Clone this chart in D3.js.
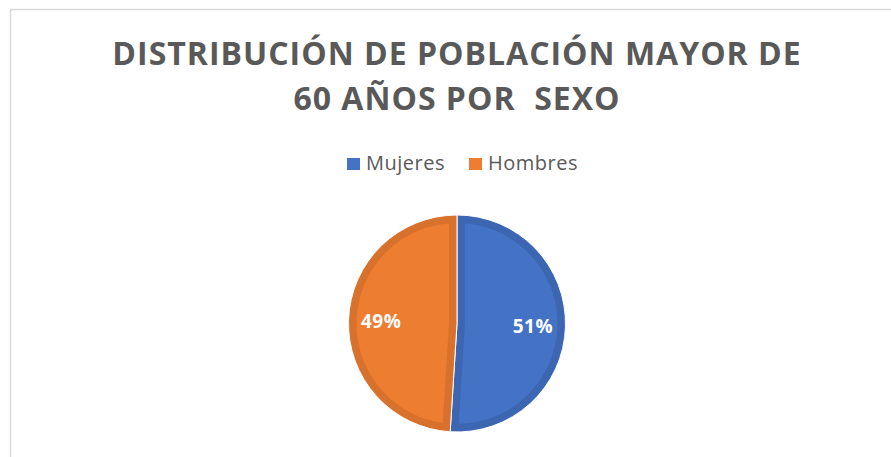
<!DOCTYPE html>
<html>
<head>
<meta charset="utf-8">
<script src="https://cdn.jsdelivr.net/npm/d3@7"></script>
<style>
  body { margin: 0; background: #fff; }
  text { font-family: "Open Sans", sans-serif; }
</style>
</head>
<body>
<script>
// chart data
let categories = ['Mujeres', 'Hombres'];
let values = [51, 49];
let colors = ['#4472C4', '#ED7D31'];
let edgeColors = ['#3C66B2', '#D8712C'];
let titleLines = ['DISTRIBUCIÓN DE POBLACIÓN MAYOR DE', '60 AÑOS POR  SEXO'];

let width = 891, height = 457;
let cx = 457, cy = 323.5, radius = 108.5;

let svg = d3.select('body').append('svg').attr('width', width).attr('height', height);

// chart frame (only top and left edges are visible)
svg.append('path')
  .attr('d', 'M10.5,' + height + 'V9.5H' + width)
  .attr('fill', 'none')
  .attr('stroke', '#d9d9d9')
  .attr('stroke-width', 1.5);

// title
svg.selectAll('.title').data(titleLines).enter().append('text')
  .attr('class', 'title')
  .attr('x', 457)
  .attr('y', (d, i) => 65 + i * 45)
  .attr('text-anchor', 'middle')
  .attr('fill', '#595959')
  .style('font-size', '32px')
  .style('letter-spacing', '1px')
  .style('font-weight', 'bold')
  .style('white-space', 'pre')
  .text(d => d);

// legend
let legend = svg.append('g').attr('class', 'legend');
let legendX = [347, 469];
let item = legend.selectAll('g').data(categories).enter().append('g')
  .attr('transform', (d, i) => 'translate(' + legendX[i] + ',158)');
item.append('rect').attr('width', 13).attr('height', 12).attr('fill', (d, i) => colors[i]);
item.append('text')
  .attr('x', 19).attr('y', 12)
  .attr('fill', '#595959')
  .style('font-size', '20px')
  .style('letter-spacing', '0.5px')
  .text(d => d);

// pie
let pie = d3.pie().sort(null).value(d => d);
let arcs = pie(values);
let arc = d3.arc().innerRadius(0).outerRadius(radius);
let labelArc = d3.arc().innerRadius(radius * 0.7).outerRadius(radius * 0.7);

let g = svg.append('g').attr('transform', 'translate(' + cx + ',' + cy + ')');
let defs = svg.append('defs');

arcs.forEach(function(d, i) {
  defs.append('clipPath').attr('id', 'clip' + i)
    .append('path').attr('d', arc(d));
});

let slice = g.selectAll('.slice').data(arcs).enter().append('g').attr('class', 'slice');

slice.append('path')
  .attr('d', arc)
  .attr('fill', (d, i) => colors[i])
  .attr('stroke', (d, i) => edgeColors[i])
  .attr('stroke-width', 16)
  .attr('clip-path', (d, i) => 'url(#clip' + i + ')');

// thin white separators
slice.append('path')
  .attr('d', arc)
  .attr('fill', 'none')
  .attr('stroke', '#fff')
  .attr('stroke-width', 1);

g.selectAll('.label').data(arcs).enter().append('text')
  .attr('class', 'label')
  .attr('transform', d => 'translate(' + labelArc.centroid(d) + ')')
  .attr('text-anchor', 'middle')
  .attr('dy', '0.37em')
  .attr('fill', '#fff')
  .style('font-size', '19px')
  .style('letter-spacing', '0.5px')
  .style('font-weight', 'bold')
  .text(d => d.data + '%');
</script>
</body>
</html>
